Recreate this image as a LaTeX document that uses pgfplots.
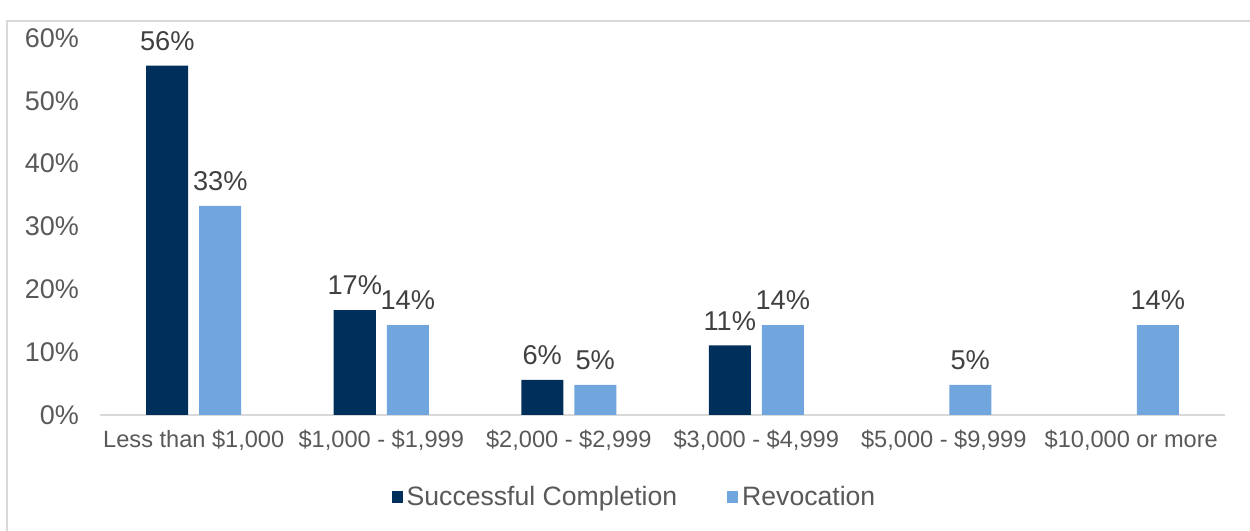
\documentclass[border=0pt]{standalone}
\usepackage{fontspec}
\setmainfont{Liberation Sans}
\usepackage{pgfplots}
\pgfplotsset{compat=1.18}
\definecolor{navy}{HTML}{002F5B}
\definecolor{sky}{HTML}{70A6DD}
\definecolor{tick}{HTML}{595959}
\definecolor{val}{HTML}{404040}
\definecolor{rule}{HTML}{D9D9D9}
\begin{document}
\begin{tikzpicture}
\path[use as bounding box] (0,0) rectangle (625pt,265.5pt);
\draw[rule,line width=0.8pt] (3.5pt,0) -- (3.5pt,255pt) -- (625pt,255pt);
\begin{axis}[at={(50pt,58pt)},anchor=south west,scale only axis,
 width=562.5pt,height=188.5pt,
 ybar=5.5pt,bar width=21pt,
 xmin=-0.5,xmax=5.5,ymin=0,ymax=60,
 xtick={0,1,2,3,4,5},
 xticklabels={{Less than \$1,000},{\$1,000 - \$1,999},{\$2,000 - \$2,999},{\$3,000 - \$4,999},{\$5,000 - \$9,999},{\$10,000 or more}},
 ytick={0,10,...,60},
 yticklabel={\pgfmathprintnumber{\tick}\%},
 /pgf/number format/assume math mode=true,
 major tick length=0pt,
 axis y line*=left,
 axis x line*=bottom,
 y axis line style={draw=none},
 x axis line style={rule,line width=1pt,-},
 separate axis lines,
 yticklabel style={font=\fontsize{13.5}{15}\selectfont,text=tick,xshift=-7pt},
 xticklabel style={font=\fontsize{11.8}{13}\selectfont,text=tick,yshift=-4pt},
 nodes near coords={\pgfmathprintnumber[fixed,precision=0]{\pgfplotspointmeta}\%},
 nodes near coords style={font=\fontsize{13.6}{15}\selectfont,text=val,yshift=4pt},
 legend style={draw=none,at={(0.476,-0.2175)},anchor=center,legend columns=2,
   font=\fontsize{13.3}{15}\selectfont,text=tick,
   /tikz/every even column/.append style={column sep=23pt}},
 legend image code/.code={\fill[#1] (0pt,-3pt) rectangle (5.5pt,2.8pt);},
 clip=false]
\addplot[fill=navy,draw=none] coordinates {(0,55.6)(1,16.7)(2,5.6)(3,11.1)};
\addlegendentry{Successful Completion}
\addplot[fill=sky,draw=none] coordinates {(0,33.3)(1,14.3)(2,4.8)(3,14.3)(4,4.8)(5,14.3)};
\addlegendentry{Revocation}
\end{axis}
\end{tikzpicture}
\end{document}
